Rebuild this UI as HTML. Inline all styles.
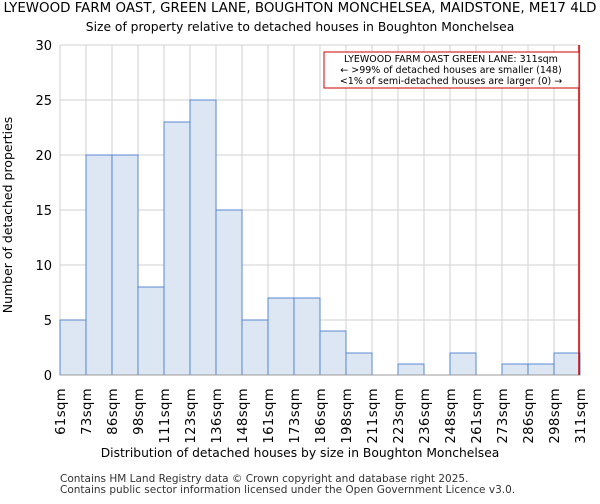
<!DOCTYPE html>
<html><head><meta charset="utf-8"><style>
body{margin:0;background:#fff;font-family:"DejaVu Sans","Liberation Sans",sans-serif;}
svg text{font-family:"DejaVu Sans","Liberation Sans",sans-serif;}
</style></head><body>
<svg id="chart" width="600" height="500" xmlns="http://www.w3.org/2000/svg">
<text x="300" y="12" font-size="13.4" text-anchor="middle">LYEWOOD FARM OAST, GREEN LANE, BOUGHTON MONCHELSEA, MAIDSTONE, ME17 4LD</text>
<text x="300" y="31" font-size="12.3" text-anchor="middle">Size of property relative to detached houses in Boughton Monchelsea</text>
<g id="grid"></g><g id="bars"></g><g id="axes"></g>
<text x="300" y="457" font-size="12.3" text-anchor="middle">Distribution of detached houses by size in Boughton Monchelsea</text>
<text transform="translate(12,215) rotate(-90)" font-size="12.5" text-anchor="middle">Number of detached properties</text>
<rect x="324" y="52" width="255" height="36" fill="#fff" stroke="#cc0000" stroke-width="1"/>
<text x="451" y="62" font-size="9.5" text-anchor="middle">LYEWOOD FARM OAST GREEN LANE: 311sqm</text>
<text x="451" y="73" font-size="9.5" text-anchor="middle">← &gt;99% of detached houses are smaller (148)</text>
<text x="451" y="84" font-size="9.5" text-anchor="middle">&lt;1% of semi-detached houses are larger (0) →</text>
<text x="60" y="482" font-size="10.5" fill="#333">Contains HM Land Registry data © Crown copyright and database right 2025.</text>
<text x="60" y="493" font-size="10.5" fill="#333">Contains public sector information licensed under the Open Government Licence v3.0.</text>
</svg>
<script>
const binLabels=["61sqm","73sqm","86sqm","98sqm","111sqm","123sqm","136sqm","148sqm","161sqm","173sqm","186sqm","198sqm","211sqm","223sqm","236sqm","248sqm","261sqm","273sqm","286sqm","298sqm","311sqm"];
const counts=[5,20,20,8,23,25,15,5,7,7,4,2,0,1,0,2,0,1,1,2];
const yTicks=[0,5,10,15,20,25,30];
const markerIndex=20;
const NS="http://www.w3.org/2000/svg";
const L=60,R=580,T=45,B=375,yMax=30;
const n=counts.length,bw=(R-L)/n;
const xs=i=>L+i*bw;
const ys=v=>B-(v/yMax)*(B-T);
function mk(tag,attrs,parent){const e=document.createElementNS(NS,tag);for(const k in attrs)e.setAttribute(k,attrs[k]);parent.appendChild(e);return e;}
const grid=document.getElementById('grid'),bars=document.getElementById('bars'),axes=document.getElementById('axes');
yTicks.forEach(v=>{
 const l=mk('line',{x1:L,x2:R,y1:ys(v),y2:ys(v),stroke:'#d0d0d0','stroke-width':1},grid);
 
 
 const t=mk('text',{x:L-8,y:ys(v)+5,'font-size':13,'text-anchor':'end'},axes);
 t.textContent=v;
 
 
});
binLabels.forEach((s,i)=>{
 const l=mk('line',{x1:xs(i),x2:xs(i),y1:T,y2:B,stroke:'#d0d0d0','stroke-width':1},grid);
 
 
 const t=mk('text',{transform:`translate(${xs(i)+5},388) rotate(-90)`,'font-size':13.2,'text-anchor':'end','letter-spacing':'0.4'},axes);
 t.textContent=s;
 
 
});
counts.forEach((c,i)=>{
 if(c<=0)return;
 const r=mk('rect',{x:xs(i),y:ys(c),width:bw,height:B-ys(c),fill:'#dde6f3',stroke:'#4a7fcf','stroke-width':0.9},bars);
 
 
});
const ax=mk('line',{x1:L,x2:R,y1:B,y2:B,stroke:'#999','stroke-width':1},axes);


const m=mk('line',{x1:xs(markerIndex)-1,x2:xs(markerIndex)-1,y1:T,y2:B,stroke:'#cc0000','stroke-width':1.5},axes);


</script>
</body></html>
